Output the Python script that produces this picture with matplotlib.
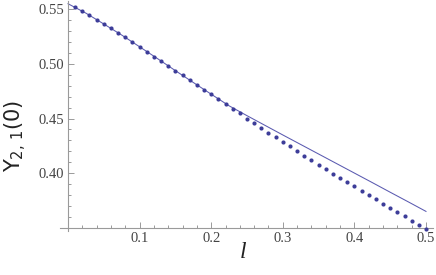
import matplotlib
matplotlib.use("Agg")
import matplotlib.pyplot as plt
from matplotlib.ticker import MultipleLocator, FixedLocator

# Dots (numerical data)
dot_l = [0.01, 0.02, 0.03, 0.04, 0.05, 0.06, 0.07, 0.08, 0.09, 0.10,
         0.11, 0.12, 0.13, 0.14, 0.15, 0.16, 0.17, 0.18, 0.19, 0.20,
         0.21, 0.22, 0.23, 0.24, 0.25, 0.26, 0.27, 0.28, 0.29, 0.30,
         0.31, 0.32, 0.33, 0.34, 0.35, 0.36, 0.37, 0.38, 0.39, 0.40,
         0.41, 0.42, 0.43, 0.44, 0.45, 0.46, 0.47, 0.48, 0.49, 0.50]
dot_y = [0.5521, 0.5479, 0.5442, 0.5402, 0.5363, 0.5324, 0.5281, 0.5242, 0.5196, 0.5153,
         0.5108, 0.5066, 0.5025, 0.4982, 0.4937, 0.4895, 0.4849, 0.4809, 0.4763, 0.4721,
         0.4676, 0.4635, 0.4588, 0.4546, 0.4498, 0.4456, 0.4413, 0.4371, 0.4329, 0.4286,
         0.4246, 0.4203, 0.4161, 0.4121, 0.4078, 0.4039, 0.3998, 0.3958, 0.3920, 0.3881,
         0.3838, 0.3802, 0.3762, 0.3722, 0.3683, 0.3644, 0.3607, 0.3567, 0.3530, 0.3491]

# Curve (approximation)
line_l = [0.0, 0.025, 0.05, 0.075, 0.10, 0.125, 0.15, 0.175, 0.20, 0.225,
          0.25, 0.275, 0.30, 0.325, 0.35, 0.375, 0.40, 0.425, 0.45, 0.475, 0.50]
line_y = [0.5548, 0.5462, 0.5363, 0.5262, 0.5155, 0.5047, 0.4937, 0.4829, 0.4722, 0.4616,
          0.4526, 0.4438, 0.4350, 0.4263, 0.4176, 0.4089, 0.4002, 0.3915, 0.3827, 0.3740, 0.3652]

x_ticks = [0.1, 0.2, 0.3, 0.4, 0.5]
x_tick_labels = ["0.1", "0.2", "0.3", "0.4", "0.5"]
y_ticks = [0.40, 0.45, 0.50, 0.55]
y_tick_labels = ["0.40", "0.45", "0.50", "0.55"]

W, H = 436, 275
fig = plt.figure(figsize=(W / 100, H / 100), dpi=100)
ax = fig.add_axes([60 / W, (H - 231) / H, (433 - 60) / W, (231 - 1) / H])

col = "#3d3d99"
ax.plot(line_l, line_y, color="#5a5ab0", lw=0.75, zorder=2)
ax.plot(dot_l, dot_y, "o", color=col, ms=3.0, mec="none", zorder=3)

ax.set_xlim(-0.0112, 0.5098)
ax.set_ylim(0.3473, 0.5573)

for s in ("top", "right"):
    ax.spines[s].set_visible(False)
ax.spines["left"].set_position(("data", 0))
ax.spines["bottom"].set_position(("data", 0.35))
for s in ("left", "bottom"):
    ax.spines[s].set_color("#9a9a9a")
    ax.spines[s].set_linewidth(0.8)

ax.xaxis.set_major_locator(FixedLocator(x_ticks))
ax.set_xticklabels(x_tick_labels)
ax.xaxis.set_minor_locator(MultipleLocator(0.02))
ax.yaxis.set_major_locator(FixedLocator(y_ticks))
ax.set_yticklabels(y_tick_labels)
ax.yaxis.set_minor_locator(MultipleLocator(0.01))

ax.tick_params(which="both", direction="in", color="#9a9a9a", width=0.7)
ax.tick_params(which="major", length=4, labelsize=10.5, labelcolor="#444444", pad=3)
ax.tick_params(which="minor", length=2.2)
for lab in ax.get_xticklabels() + ax.get_yticklabels():
    lab.set_family("Liberation Serif")

fig.text(243 / W, 1 - 253 / H, "l", fontsize=17, family="Liberation Serif",
         style="italic", ha="center", va="center", color="#222222")
fig.text(16 / W, 1 - 136 / H, r"$\mathregular{Y_{2,\,1}(0)}$", fontsize=15,
         family="DejaVu Sans", rotation=90, ha="center", va="center", color="#222222")

fig.savefig("out.png", dpi=100)
